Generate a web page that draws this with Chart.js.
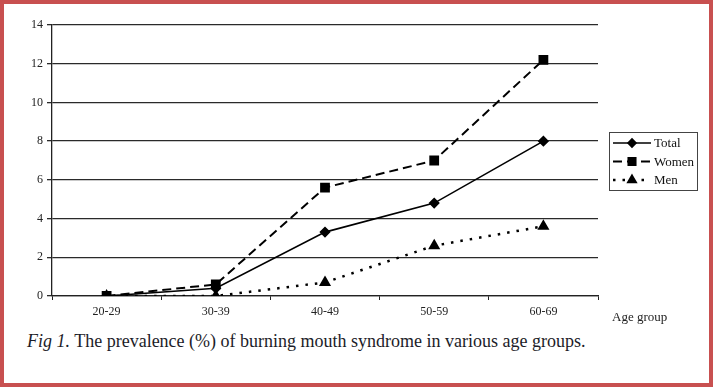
<!DOCTYPE html>
<html>
<head>
<meta charset="utf-8">
<script src="https://cdn.jsdelivr.net/npm/chart.js@4.4.0/dist/chart.umd.min.js"></script>
<style>
  html, body { margin: 0; padding: 0; background: #fff; }
  #frame {
    position: relative; width: 713px; height: 387px; box-sizing: border-box;
    border: 4px solid #c85050; background: #fff;
  }
  #box { position: absolute; left: 0; top: 0; width: 705px; height: 320px; }
  #xtitle {
    position: absolute; left: 608px; top: 305px;
    font: 13px "Liberation Serif", "DejaVu Serif", serif; color: #222;
  }
  #caption {
    position: absolute; left: 23px; top: 327px;
    font: 18px "Liberation Serif", "DejaVu Serif", serif; color: #1c1c28;
  }
</style>
</head>
<body>
<div id="frame">
  <div id="box"><canvas id="chart-bms"></canvas></div>
  <div id="xtitle">Age group</div>
  <div id="caption"><i>Fig 1.</i> The prevalence (%) of burning mouth syndrome in various age groups.</div>
</div>
<script>
var ageGroups = ['20-29', '30-39', '40-49', '50-59', '60-69'];
var totalValues = [0, 0.4, 3.3, 4.8, 8.0];
var womenValues = [0, 0.6, 5.6, 7.0, 12.2];
var menValues = [0, 0, 0.7, 2.6, 3.6];
var yTicks = [0, 2, 4, 6, 8, 10, 12, 14];

var serif = '"Liberation Serif", "DejaVu Serif", serif';

// legend box drawn by hand, line sample + marker + label
var boxLegend = {
    id: 'boxLegend',
    afterDraw: function(chart) {
        var ctx = chart.ctx
        var left = chart.chartArea.right + 11
        var top = 128
        ctx.save()
        ctx.strokeStyle = '#444'
        ctx.lineWidth = 1
        ctx.strokeRect(left + 0.5, top + 0.5, 88, 58)
        ctx.font = '13px ' + serif
        ctx.textBaseline = 'middle'
        chart.data.datasets.forEach(function(ds, i) {
            var y = top + 11 + i * 18.5
            ctx.strokeStyle = '#000'
            ctx.lineWidth = ds.borderWidth
            ctx.setLineDash(ds.borderDash || [])
            ctx.beginPath()
            ctx.moveTo(left + 4, y)
            ctx.lineTo(left + 42, y)
            ctx.stroke()
            ctx.setLineDash([])
            Chart.helpers.drawPoint(ctx, {
                pointStyle: ds.pointStyle, radius: ds.pointRadius - 0.5, rotation: 0, borderWidth: 1
            }, left + 23, y)
            ctx.fillStyle = '#000'
            ctx.fill()
            ctx.fillStyle = '#111'
            ctx.fillText(ds.label, left + 45, y + 1)
        })
        ctx.restore()
    }
}

var ctx = document.getElementById('chart-bms').getContext('2d')

new Chart(ctx, {
    type: 'line',
    data: {
        labels: ageGroups,
        datasets: [{
            label: 'Total',
            data: totalValues,
            borderColor: '#000',
            backgroundColor: '#000',
            borderWidth: 1.6,
            pointStyle: 'rectRot',
            pointRadius: 4.5,
            tension: 0
        }, {
            label: 'Women',
            data: womenValues,
            borderColor: '#000',
            backgroundColor: '#000',
            borderWidth: 2,
            borderDash: [9, 5],
            pointStyle: 'rect',
            pointRadius: 5.5,
            tension: 0
        }, {
            label: 'Men',
            data: menValues,
            borderColor: '#000',
            backgroundColor: '#000',
            borderWidth: 2.5,
            borderDash: [2.5, 7],
            pointStyle: 'triangle',
            pointRadius: 4.5,
            tension: 0
        }]
    },
    options: {
        responsive: true,
        maintainAspectRatio: false,
        animation: false,
        layout: { padding: { top: 21, right: 111, left: 0, bottom: 0 } },
        plugins: {
            legend: { display: false },
            tooltip: { enabled: false }
        },
        scales: {
            x: {
                offset: true,
                grid: {
                    offset: true,
                    drawOnChartArea: false,
                    color: '#222',
                    tickLength: 4
                },
                border: { color: '#222', width: 1.3 },
                ticks: { color: '#222', font: { family: serif, size: 12 }, padding: 5 },
                afterFit: function(scale) { scale.height = 28 }
            },
            y: {
                min: 0,
                max: 14,
                afterBuildTicks: function(scale) {
                    scale.ticks = yTicks.map(function(v) { return { value: v } })
                },
                grid: { color: '#2a2a2a', lineWidth: 1.3, tickLength: 5 },
                border: { color: '#222', width: 1.3 },
                ticks: { color: '#222', font: { family: serif, size: 12 }, padding: 4 },
                afterFit: function(scale) { scale.width = 48 }
            }
        }
    },
    plugins: [boxLegend]
})
</script>
</body>
</html>
